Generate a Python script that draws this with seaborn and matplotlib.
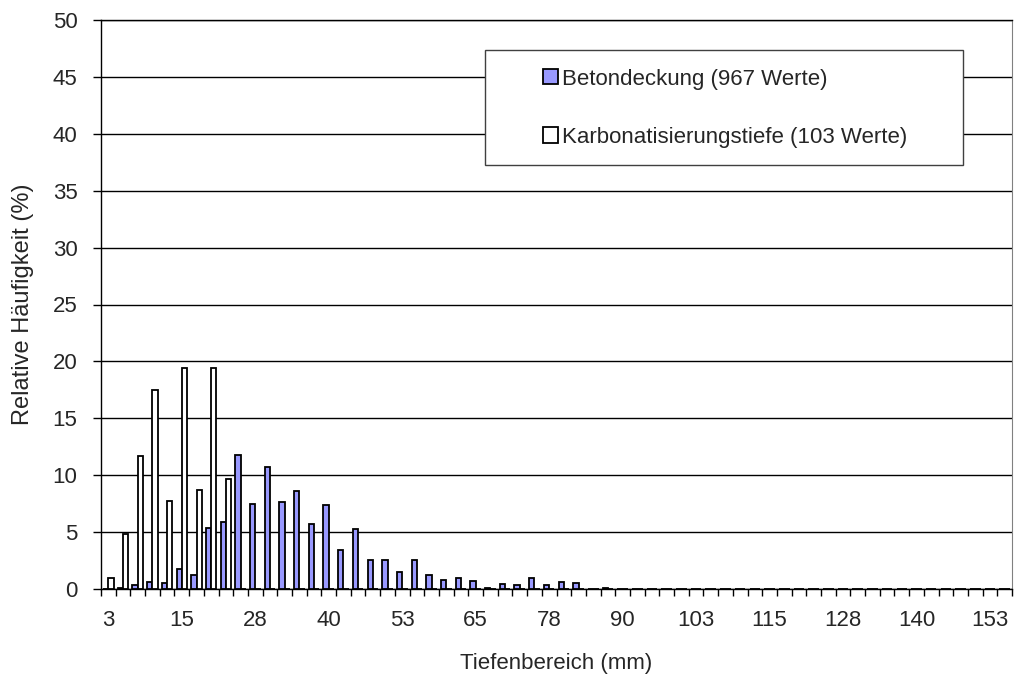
import matplotlib
matplotlib.use("Agg")
import matplotlib.pyplot as plt
from matplotlib.patches import Rectangle
import seaborn as sns
import pandas as pd
import numpy as np

# Tiefenklassen (mm), Klassenbreite 2,5 mm
tiefe = [2.5, 5.0, 7.5, 10.0, 12.5, 15.0, 17.5, 20.0, 22.5, 25.0,
         27.5, 30.0, 32.5, 35.0, 37.5, 40.0, 42.5, 45.0, 47.5, 50.0,
         52.5, 55.0, 57.5, 60.0, 62.5, 65.0, 67.5, 70.0, 72.5, 75.0,
         77.5, 80.0, 82.5, 85.0, 87.5, 90.0, 92.5, 95.0, 97.5, 100.0,
         102.5, 105.0, 107.5, 110.0, 112.5, 115.0, 117.5, 120.0, 122.5, 125.0,
         127.5, 130.0, 132.5, 135.0, 137.5, 140.0, 142.5, 145.0, 147.5, 150.0,
         152.5, 155.0]

# relative Haeufigkeit in %, ab der letzten Angabe 0
beton = [0.0, 0.10, 0.31, 0.62, 0.52, 1.76, 1.24, 5.38, 5.89, 11.79,
         7.45, 10.75, 7.65, 8.58, 5.69, 7.34, 3.41, 5.27, 2.59, 2.59,
         1.45, 2.59, 1.24, 0.83, 0.93, 0.72, 0.10, 0.41, 0.31, 0.93,
         0.31, 0.62, 0.52, 0.0, 0.10]
karbo = [0.97, 4.85, 11.65, 17.48, 7.77, 19.42, 8.74, 19.42, 9.71]

xlabels = ["3", "15", "28", "40", "53", "65", "78", "90", "103", "115", "128", "140", "153"]
lab_beton = "Betondeckung (967 Werte)"
lab_karbo = "Karbonatisierungstiefe (103 Werte)"

beton = beton + [0.0] * (len(tiefe) - len(beton))
karbo = karbo + [0.0] * (len(tiefe) - len(karbo))
kat = [str(t) for t in tiefe]

df = pd.DataFrame({
    "Tiefe": kat * 2,
    "Anteil": beton + karbo,
    "Serie": [lab_beton] * len(kat) + [lab_karbo] * len(kat),
})

sns.set_style("white")
plt.rcParams["font.family"] = ["Liberation Sans", "DejaVu Sans"]

fig = plt.figure(figsize=(10.16, 6.74), dpi=100)
ax = fig.add_axes([101 / 1016, 85 / 674, 911 / 1016, 569 / 674])

sns.barplot(data=df, x="Tiefe", y="Anteil", hue="Serie", order=kat,
            palette=["#9999FF", "white"], saturation=1, edgecolor="black",
            linewidth=1.3, width=0.72, ax=ax, zorder=3)

ax.set_ylim(0, 50)
ax.set_xlim(-0.5, len(kat) - 0.5)
ax.set_yticks(range(0, 51, 5))
ax.yaxis.grid(True, color="black", linewidth=1)
ax.set_axisbelow(True)

ax.set_xticks(range(0, len(kat), 5))
ax.set_xticklabels(xlabels)
ax.set_xticks(np.arange(-0.5, len(kat), 1), minor=True)
ax.tick_params(axis="x", which="major", length=0, pad=15, labelsize=16)
ax.tick_params(axis="x", which="minor", bottom=True, length=5, width=1, color="black")
ax.tick_params(axis="y", left=True, length=6, width=1, color="black", pad=11, labelsize=16)

for s in ["left", "bottom", "top"]:
    ax.spines[s].set_color("black")
    ax.spines[s].set_linewidth(1)
ax.spines["right"].set_color("#808080")

ax.set_xlabel("Tiefenbereich (mm)", fontsize=16, labelpad=16)
ax.set_ylabel("Relative Häufigkeit (%)", fontsize=17, labelpad=13)

handles, labels = ax.get_legend_handles_labels()
ax.get_legend().remove()
ax.add_patch(Rectangle((0.4215, 0.745), 0.5245, 0.202, transform=ax.transAxes,
                       facecolor="white", edgecolor="#404040", linewidth=1,
                       zorder=4, clip_on=False))
leg = ax.legend(handles, labels, loc="center left", bbox_to_anchor=(0.485, 0.845),
                frameon=False, fontsize=16, handlelength=0.68, handleheight=0.68,
                handletextpad=0.18, labelspacing=1.68, borderpad=0, borderaxespad=0)
leg.set_zorder(5)

plt.savefig("out.png", dpi=100)
